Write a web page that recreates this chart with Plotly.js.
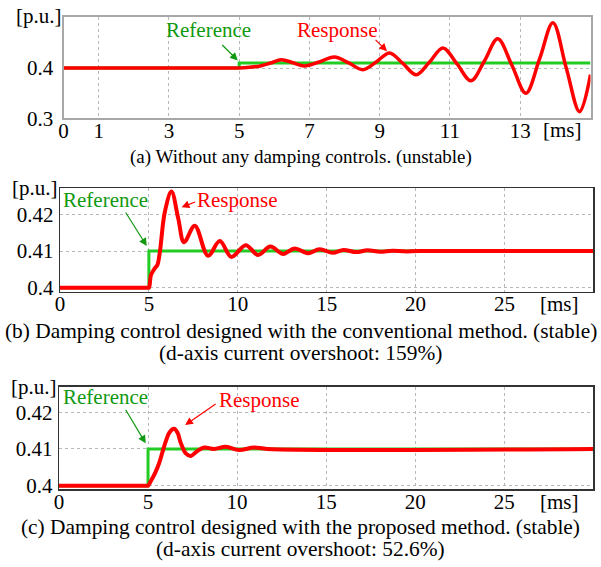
<!DOCTYPE html>
<html>
<head>
<meta charset="utf-8">
<script src="https://cdn.plot.ly/plotly-3.0.1.min.js"></script>
<style>
  html, body { margin: 0; padding: 0; background: #fff; }
  #chart { width: 601px; height: 567px; }
</style>
</head>
<body>
<div id="chart"></div>
<script>
// (a) no damping control: time [ms] and d-axis current [p.u.]
const refTimeA = [0, 5, 5, 15];
const refValA  = [0.4, 0.4, 0.41, 0.41];
const respTimeA = [0, 4.9, 5.0, 5.3, 5.6, 5.9, 6.2, 6.53, 6.86, 7.28, 7.71, 8.12, 8.52, 8.9, 9.28,
                   9.66, 10.04, 10.42, 10.8, 11.2, 11.6, 11.98, 12.36, 12.76, 13.16, 13.55, 13.93,
                   14.31, 14.69, 15.0];
const respValA  = [0.4, 0.4, 0.4, 0.4015, 0.404, 0.410, 0.4166, 0.4105, 0.404, 0.412, 0.422, 0.410,
                   0.3966, 0.412, 0.430, 0.409, 0.3866, 0.412, 0.440, 0.408, 0.3746, 0.414, 0.458,
                   0.406, 0.350, 0.418, 0.490, 0.400, 0.313, 0.387];

// (b) conventional damping control
const refTimeB = [0, 5, 5, 30];
const refValB  = [0.4, 0.4, 0.41, 0.41];
const respTimeB = [0, 4.9, 5.0, 5.12, 5.34, 5.48, 5.62, 5.9, 6.27, 6.65, 6.98, 7.58, 8.33, 8.99,
                   9.64, 10.45, 11.14, 11.83, 12.55, 13.2, 13.95, 14.6, 15.34, 15.95, 16.65, 17.3,
                   18.0, 18.7, 19.4, 20.2, 30];
const respValB  = [0.4, 0.4, 0.4, 0.4035, 0.4053, 0.4062, 0.4098, 0.4207, 0.4262, 0.4189, 0.4124,
                   0.4169, 0.4087, 0.4127, 0.4084, 0.4116, 0.4089, 0.4112, 0.4092, 0.4107, 0.4094,
                   0.4105, 0.4095, 0.4103, 0.4097, 0.4102, 0.4098, 0.4101, 0.4099, 0.41, 0.41];

// (c) proposed damping control
const refTimeC = [0, 5, 5, 30];
const refValC  = [0.4, 0.4, 0.41, 0.41];
const respTimeC = [0, 4.9, 5.0, 5.15, 5.4, 5.62, 5.8, 5.99, 6.2, 6.46, 6.65, 6.84, 7.12, 7.4, 7.75,
                   8.15, 8.7, 9.37, 10.1, 10.96, 11.7, 30];
const respValC  = [0.4, 0.4, 0.4, 0.4012, 0.4035, 0.4061, 0.409, 0.412, 0.4145, 0.4155, 0.4145,
                   0.4116, 0.4088, 0.4081, 0.4094, 0.4104, 0.41, 0.4106, 0.4097, 0.4104, 0.41, 0.41];

const ticksA = [0, 1, 3, 5, 7, 9, 11, 13];
const ticksBC = [0, 5, 10, 15, 20, 25];
const yTicksA = [0.3, 0.4];
const yTicksBC = [0.4, 0.41, 0.42];
const yTickTextBC = ['0.4', '0.41', '0.42'];

const captions = [
  '(a) Without any damping controls. (unstable)',
  '(b) Damping control designed with the conventional method. (stable)',
  '(d-axis current overshoot: 159%)',
  '(c) Damping control designed with the proposed method. (stable)',
  '(d-axis current overshoot: 52.6%)'
];

const SERIF = 'Liberation Serif, Times New Roman, serif';
const RED = '#ff0000';
const GREEN_LINE = '#22cc22';
const GREEN_TEXT = '#119911';

function refTrace(x, y, xa, ya, w) {
  return { x: x, y: y, xaxis: xa, yaxis: ya, mode: 'lines', type: 'scatter',
           line: { color: GREEN_LINE, width: w }, hoverinfo: 'skip' };
}
function respTrace(x, y, xa, ya, w) {
  return { x: x, y: y, xaxis: xa, yaxis: ya, mode: 'lines', type: 'scatter',
           line: { color: RED, width: w, shape: 'spline', smoothing: 1 }, hoverinfo: 'skip' };
}

const data = [
  refTrace(refTimeA, refValA, 'x', 'y', 3),
  respTrace(respTimeA, respValA, 'x', 'y', 3.5),
  refTrace(refTimeB, refValB, 'x2', 'y2', 3),
  respTrace(respTimeB, respValB, 'x2', 'y2', 4),
  refTrace(refTimeC, refValC, 'x3', 'y3', 3),
  respTrace(respTimeC, respValC, 'x3', 'y3', 4)
];

const tickFont = { family: SERIF, size: 21, color: '#000' };
const gridCommon = { gridcolor: '#b8b8b8', griddash: 'dot', gridwidth: 1, zeroline: false,
                     ticks: '', tickfont: tickFont, showline: true, mirror: true, fixedrange: true };

function xAxis(domain, range, vals, anchor, lineColor, lineWidth, standoff) {
  return Object.assign({}, gridCommon, {
    domain: domain, range: range, tickmode: 'array', tickvals: vals, anchor: anchor,
    linecolor: lineColor, linewidth: lineWidth, ticklabelstandoff: standoff
  });
}
function yAxis(domain, range, vals, text, anchor, lineColor, lineWidth, standoff) {
  return Object.assign({}, gridCommon, {
    domain: domain, range: range, tickmode: 'array', tickvals: vals, ticktext: text, anchor: anchor,
    linecolor: lineColor, linewidth: lineWidth, ticklabelstandoff: standoff
  });
}

const W = 601, H = 567;
const px = v => v / W;
const py = v => 1 - v / H;

function textAnn(text, x, y, xref, yref, color, size) {
  return { text: text, x: x, y: y, xref: xref, yref: yref, showarrow: false,
           font: { family: SERIF, size: size || 21, color: color }, xanchor: 'center', yanchor: 'middle' };
}
function arrowAnn(x, y, xref, yref, ax, ay, color) {
  return { text: '', x: x, y: y, xref: xref, yref: yref, ax: ax, ay: ay, showarrow: true,
           arrowhead: 2, arrowsize: 1.3, arrowwidth: 1.2, arrowcolor: color, standoff: 0 };
}
function unitAnn(text, xref, yref, x, y, xanchor, yanchor, yshift) {
  return { text: text, xref: xref, yref: yref, x: x, y: y, xanchor: xanchor, yanchor: yanchor,
           yshift: yshift || 0, showarrow: false, font: { family: SERIF, size: 21, color: '#000' } };
}

const annotations = [
  // units
  unitAnn('[p.u.]', 'x domain', 'y domain', 0, 1, 'right', 'middle', 1),
  unitAnn('[p.u.]', 'x2 domain', 'y2 domain', 0, 1, 'right', 'middle'),
  unitAnn('[p.u.]', 'x3 domain', 'y3 domain', 0, 1, 'right', 'middle'),
  unitAnn('[ms]', 'x', 'paper', 14.2, py(130), 'center', 'middle'),
  unitAnn('[ms]', 'x2', 'paper', 28.1, py(304), 'center', 'middle'),
  unitAnn('[ms]', 'x3', 'paper', 28.1, py(502), 'center', 'middle'),
  // (a) labels
  textAnn('Reference', 4.12, 0.4755, 'x', 'y', GREEN_TEXT),
  arrowAnn(4.96, 0.415, 'x', 'y', -17, -17, GREEN_TEXT),
  textAnn('Response', 7.8, 0.4746, 'x', 'y', RED),
  arrowAnn(9.21, 0.4332, 'x', 'y', -13, -13, RED),
  // (b) labels
  textAnn('Reference', 2.56, 0.4239, 'x2', 'y2', GREEN_TEXT),
  arrowAnn(4.88, 0.41136, 'x2', 'y2', -22, -35, GREEN_TEXT),
  textAnn('Response', 9.98, 0.4239, 'x2', 'y2', RED),
  arrowAnn(6.84, 0.4219, 'x2', 'y2', 15, -6, RED),
  // (c) labels
  textAnn('Reference', 2.61, 0.4242, 'x3', 'y3', GREEN_TEXT),
  arrowAnn(4.87, 0.41155, 'x3', 'y3', -21, -35, GREEN_TEXT),
  textAnn('Response', 11.24, 0.4234, 'x3', 'y3', RED),
  arrowAnn(7.08, 0.41654, 'x3', 'y3', 32, -22, RED),
  // captions
  textAnn(captions[0], 0.5, py(157), 'paper', 'paper', '#000', 19),
  textAnn(captions[1], 0.5, py(330.5), 'paper', 'paper', '#000', 21.4),
  textAnn(captions[2], 0.5, py(352.5), 'paper', 'paper', '#000', 21.4),
  textAnn(captions[3], 0.5, py(527), 'paper', 'paper', '#000', 21.4),
  textAnn(captions[4], 0.5, py(549), 'paper', 'paper', '#000', 21.4)
];

const layout = {
  width: W, height: H,
  margin: { l: 0, r: 0, t: 0, b: 0, pad: 0 },
  paper_bgcolor: '#fff', plot_bgcolor: '#fff',
  showlegend: false,
  font: { family: SERIF, color: '#000' },
  xaxis:  xAxis([px(63.5), px(590.5)], [0, 15], ticksA, 'y', '#a8a8a8', 2, -8),
  yaxis:  yAxis([py(118.3), py(16.7)], [0.3, 0.502], yTicksA, ['0.3', '0.4'], 'x', '#a8a8a8', 2, 4),
  xaxis2: xAxis([px(60), px(593.3)], [0, 30], ticksBC, 'y2', '#333', 1.3, -7),
  yaxis2: yAxis([py(291.7), py(188.3)], [0.3989, 0.4271], yTicksBC, yTickTextBC, 'x2', '#333', 1.3, 1),
  xaxis3: xAxis([px(59), px(593.3)], [0, 30], ticksBC, 'y3', '#333', 1.3, -7),
  yaxis3: yAxis([py(489.3), py(386.7)], [0.3990, 0.4270], yTicksBC, yTickTextBC, 'x3', '#333', 1.3, 1),
  annotations: annotations
};

Plotly.newPlot('chart', data, layout, { staticPlot: true, displayModeBar: false });
</script>
</body>
</html>
